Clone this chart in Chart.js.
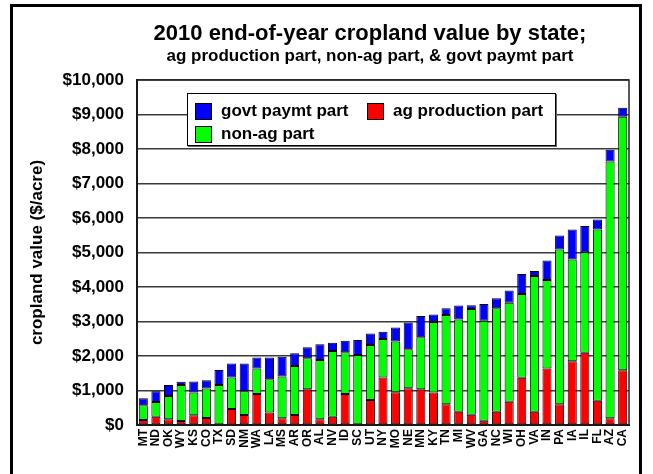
<!DOCTYPE html>
<html lang="en">
<head>
    <meta charset="UTF-8">
    <title>2010 end-of-year cropland value by state</title>
    <style>
        body {
            margin: 0;
            background: #fff;
            font-family: "Liberation Sans", Arial, sans-serif;
        }
        .frame {
            position: absolute;
            left: 10px;
            top: 4px;
            width: 632px;
            height: 480px;
            border: 3px solid #000;
            box-sizing: border-box;
        }
        .title, .subtitle {
            position: absolute;
            left: 120px;
            width: 500px;
            text-align: center;
            font-weight: bold;
            color: #000;
            white-space: nowrap;
        }
        .title { top: 20px; font-size: 22px; }
        .subtitle { top: 46px; font-size: 17px; }
        #legend {
            position: absolute;
            left: 187px;
            top: 93px;
            width: 369px;
            height: 53px;
            border: 1px solid #000;
            box-shadow: 1px 1px 0 #666;
            background: #fff;
            box-sizing: border-box;
            font-weight: bold;
            font-size: 17px;
        }
        #legend .item {
            position: absolute;
            display: flex;
            align-items: center;
        }
        #legend .sw {
            width: 15px;
            height: 15px;
            border: 1px solid #000;
            margin-right: 9px;
        }
        canvas { position: absolute; left: 0; top: 0; }
    </style>
</head>
<body>
    <canvas id="chart" width="653" height="474"></canvas>
    <div class="frame"></div>
    <div class="title">2010 end-of-year cropland value by state;</div>
    <div class="subtitle">ag production part, non-ag part, &amp; govt paymt part</div>
    <div id="legend"></div>

    <script src="https://cdn.jsdelivr.net/npm/chart.js"></script>
    <script>
        const states = ['MT', 'ND', 'OK', 'WY', 'KS', 'CO', 'TX', 'SD', 'NM', 'WA', 'LA', 'MS', 'AR',
            'OR', 'AL', 'NV', 'ID', 'SC', 'UT', 'NY', 'MO', 'NE', 'MN', 'KY', 'TN', 'MI', 'WV', 'GA',
            'NC', 'WI', 'OH', 'VA', 'IN', 'PA', 'IA', 'IL', 'FL', 'AZ', 'CA'];

        // $/acre
        const agPart = [145, 240, 165, 115, 280, 200, 0, 465, 290, 900, 365, 195, 290,
            1035, 165, 240, 900, 0, 725, 1375, 950, 1065, 1035, 945, 600, 385, 300, 125,
            385, 675, 1370, 385, 1635, 600, 1845, 2095, 705, 195, 1585];
        const nonAgPart = [425, 425, 675, 1045, 660, 860, 1160, 910, 685, 735, 960, 1210, 1420,
            900, 1720, 1905, 1210, 2030, 1595, 1120, 1470, 1130, 1505, 2040, 2590, 2675, 3065, 2900,
            3000, 2870, 2425, 3935, 2570, 4490, 2955, 2910, 4965, 7440, 7350];
        const govtPart = [205, 310, 320, 95, 320, 235, 435, 405, 805, 320, 630, 570, 370,
            320, 455, 240, 330, 435, 330, 205, 405, 775, 620, 220, 195, 405, 105, 485,
            290, 350, 580, 145, 560, 405, 870, 765, 290, 340, 260];

        const yTicks = [0, 1000, 2000, 3000, 4000, 5000, 6000, 7000, 8000, 9000, 10000];

        const font = "'Liberation Sans', Arial, sans-serif";

        const chart = new Chart(document.getElementById('chart'), {
            type: 'bar',
            data: {
                labels: states,
                datasets: [
                    { label: 'ag production part', data: agPart, backgroundColor: '#ff0000' },
                    { label: 'non-ag part', data: nonAgPart, backgroundColor: '#00ff00' },
                    { label: 'govt paymt part', data: govtPart, backgroundColor: '#0000ff' }
                ].map(d => Object.assign(d, {
                    borderColor: '#000',
                    borderWidth: 1,
                    borderSkipped: false,
                    barPercentage: 0.72,
                    categoryPercentage: 1
                }))
            },
            options: {
                responsive: false,
                animation: false,
                layout: { padding: { top: 80, right: 24, left: 0, bottom: 0 } },
                plugins: {
                    legend: { display: false },
                    tooltip: { enabled: false }
                },
                scales: {
                    x: {
                        stacked: true,
                        grid: { display: false, drawTicks: false },
                        border: { color: '#000', width: 2 },
                        ticks: {
                            color: '#000',
                            font: { family: font, size: 12, weight: 'bold' },
                            minRotation: 90,
                            maxRotation: 90,
                            autoSkip: false,
                            padding: 4
                        },
                        afterFit: s => { s.height = 49; }
                    },
                    y: {
                        stacked: true,
                        min: 0,
                        max: 10000,
                        afterBuildTicks: s => { s.ticks = yTicks.map(v => ({ value: v })); },
                        grid: { color: '#3a3a3a', lineWidth: 1.5, drawTicks: false },
                        border: { color: '#000', width: 2 },
                        ticks: {
                            color: '#000',
                            padding: 13,
                            font: { family: font, size: 17, weight: 'bold' },
                            callback: v => '$' + v.toLocaleString('en-US')
                        },
                        title: {
                            display: true,
                            text: 'cropland value ($/acre)',
                            color: '#000',
                            font: { family: font, size: 17, weight: 'bold' },
                            padding: { top: 27, bottom: 0 }
                        },
                        afterFit: s => { s.width = 137; }
                    }
                }
            },
            plugins: [{
                id: 'plotFrame',
                afterDraw(c) {
                    const a = c.chartArea, ctx = c.ctx;
                    ctx.save();
                    ctx.strokeStyle = '#222';
                    ctx.lineWidth = 1.5;
                    ctx.strokeRect(a.left, a.top, a.right - a.left, a.bottom - a.top);
                    ctx.restore();
                }
            }]
        });

        // legend box: govt, ag production / non-ag
        const legendSpots = { 'govt paymt part': [7, 7], 'ag production part': [179, 7], 'non-ag part': [7, 30] };
        const legend = document.getElementById('legend');
        chart.data.datasets.forEach(ds => {
            const [x, y] = legendSpots[ds.label];
            const item = document.createElement('div');
            item.className = 'item';
            item.style.left = x + 'px';
            item.style.top = y + 'px';
            item.innerHTML = '<span class="sw" style="background:' + ds.backgroundColor + '"></span>' + ds.label;
            legend.appendChild(item);
        });
    </script>
</body>
</html>
